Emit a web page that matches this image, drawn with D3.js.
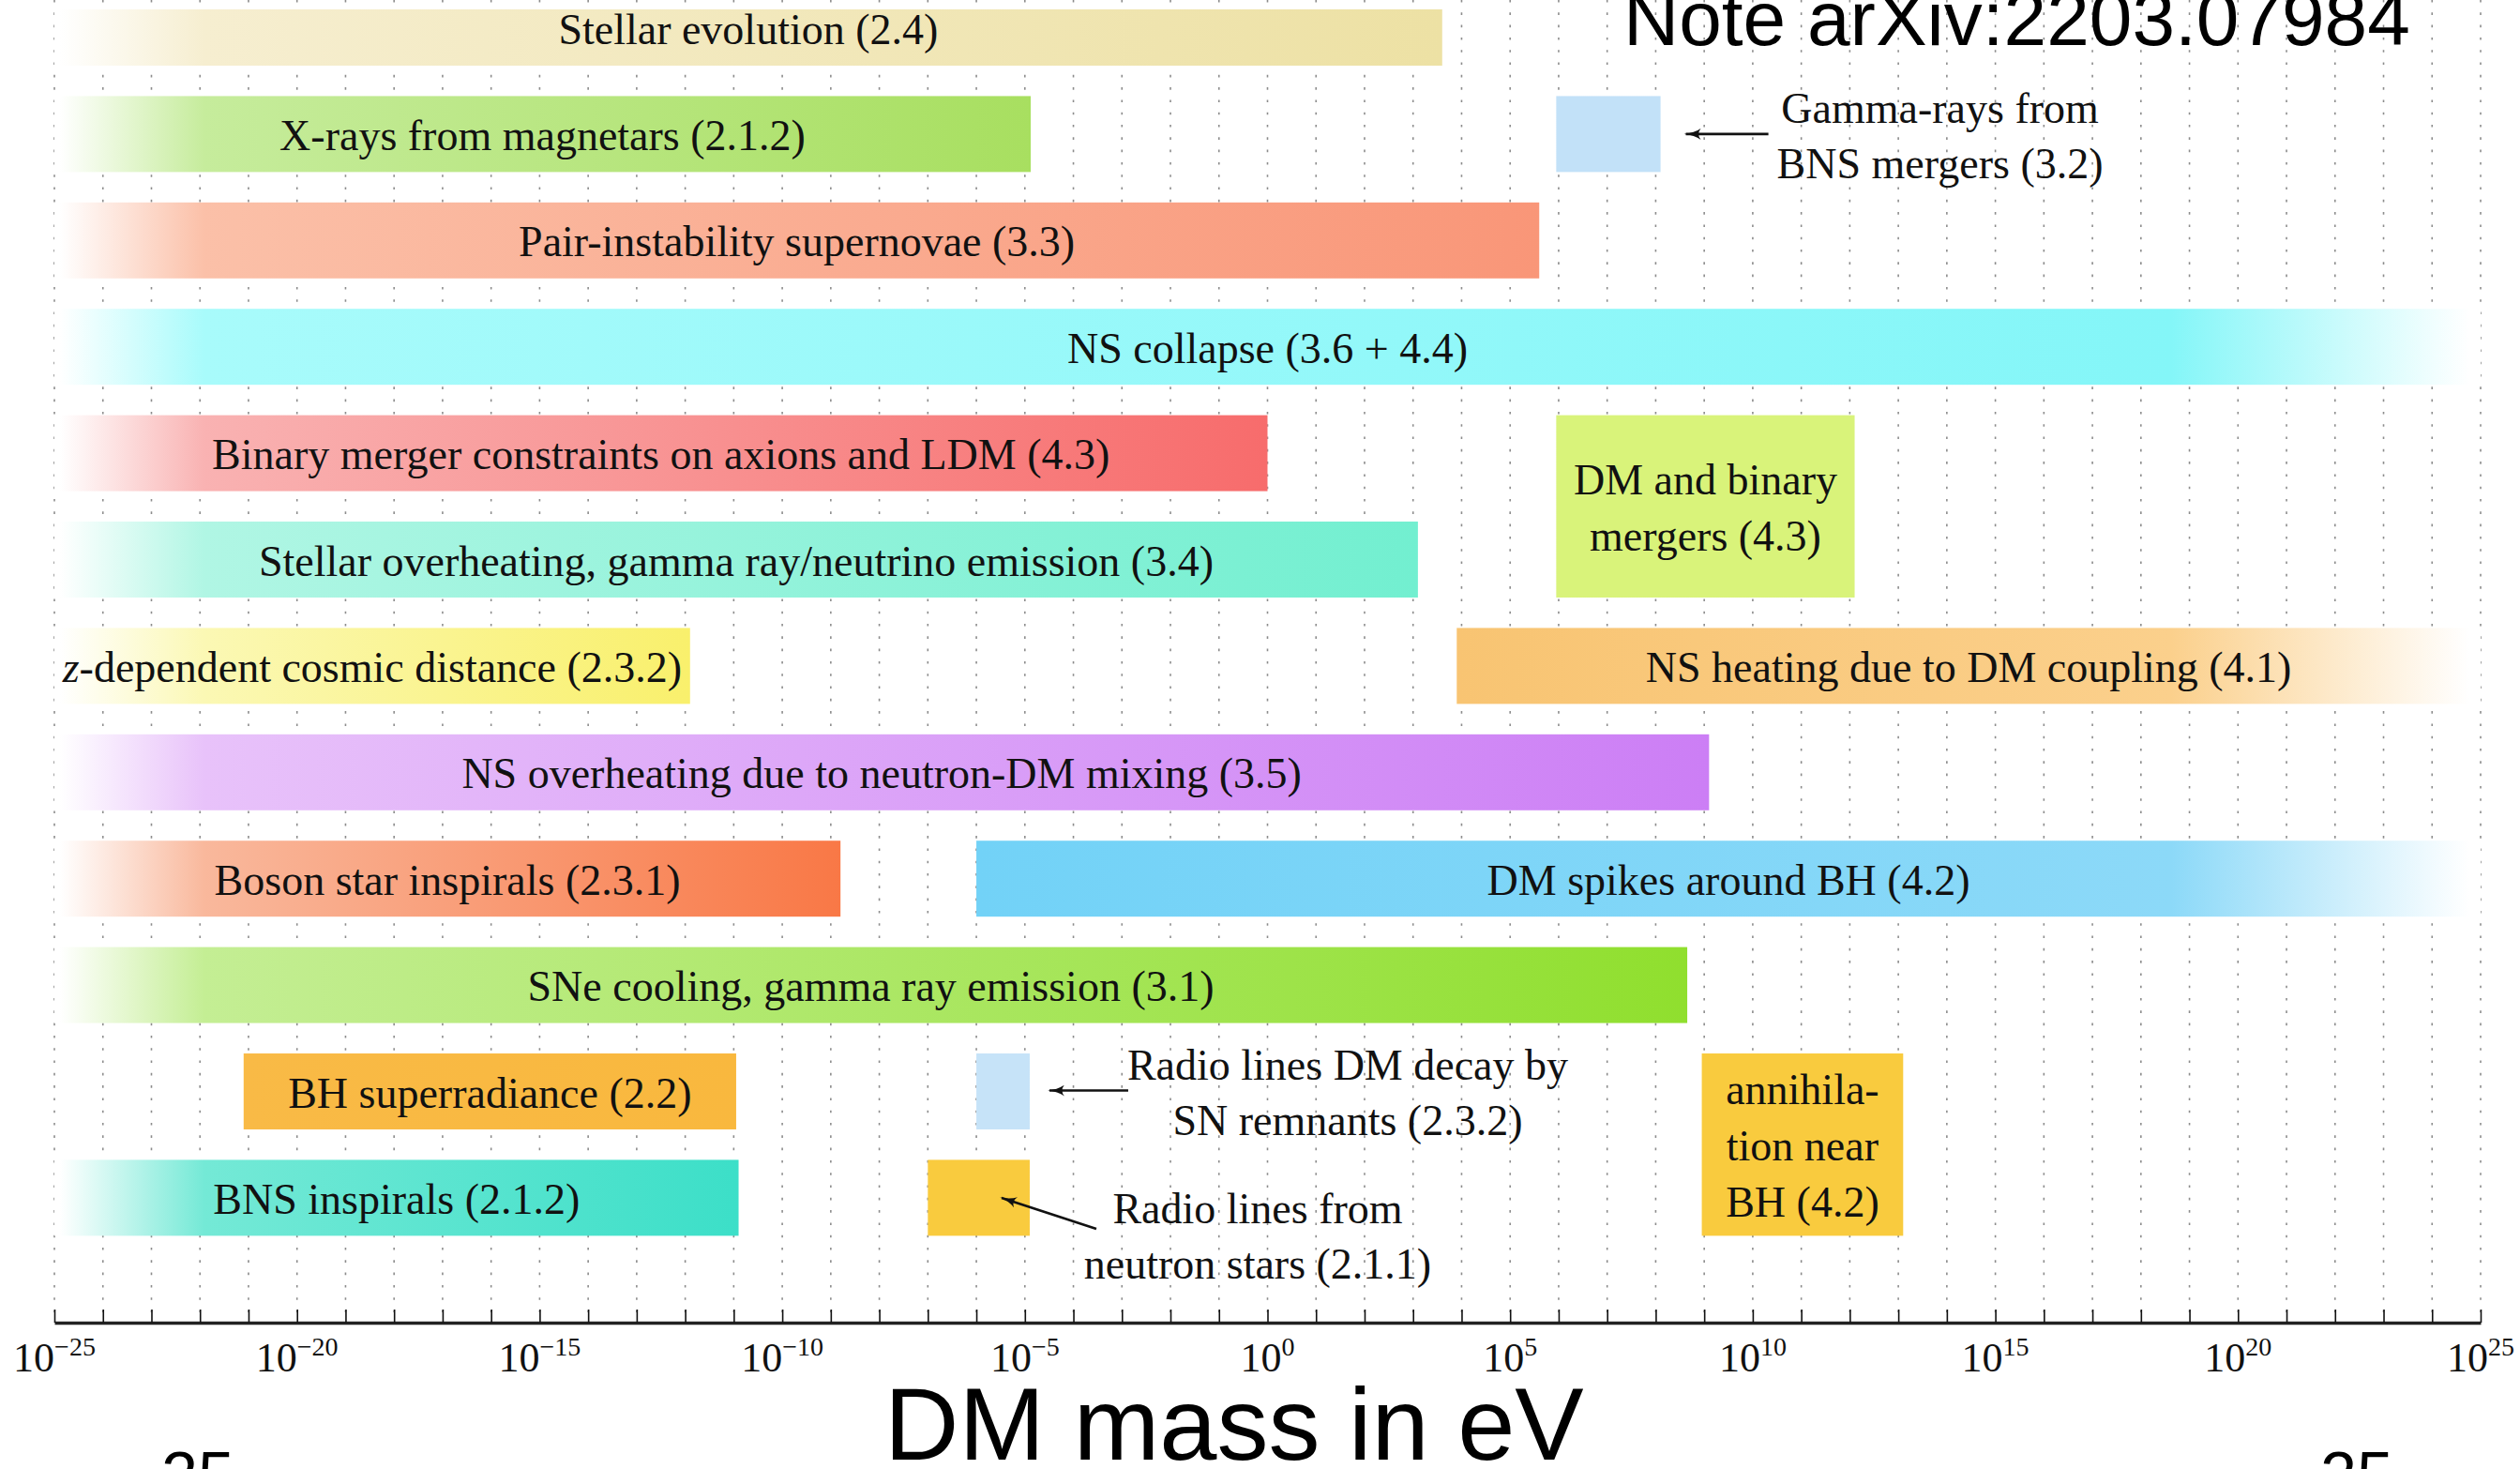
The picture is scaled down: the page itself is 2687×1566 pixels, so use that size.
<!DOCTYPE html>
<html>
<head>
<meta charset="utf-8">
<script src="https://cdn.jsdelivr.net/npm/d3@7"></script>
<style>
  html, body { margin: 0; padding: 0; background: #fff; }
  svg { display: block; }
</style>
</head>
<body>
<svg id="chart" width="2687" height="1566"></svg>
<script>
// ---- Constraint bands (mass ranges in log10(m / eV)) ----
const labels = [
  "Stellar evolution (2.4)",
  "X-rays from magnetars (2.1.2)",
  "",
  "Pair-instability supernovae (3.3)",
  "NS collapse (3.6 + 4.4)",
  "Binary merger constraints on axions and LDM (4.3)",
  "DM and binary\nmergers (4.3)",
  "Stellar overheating, gamma ray/neutrino emission (3.4)",
  "$z$-dependent cosmic distance (2.3.2)",
  "NS heating due to DM coupling (4.1)",
  "NS overheating due to neutron-DM mixing (3.5)",
  "Boson star inspirals (2.3.1)",
  "DM spikes around BH (4.2)",
  "SNe cooling, gamma ray emission (3.1)",
  "BH superradiance (2.2)",
  "",
  "annihila-\ntion near\nBH (4.2)",
  "BNS inspirals (2.1.2)",
  ""
];
const rows      = [0, 1, 1, 2, 3, 4, 4, 5, 6, 6, 7, 8, 8, 9, 10, 10, 10, 11, 11];
const rowSpans  = [1, 1, 1, 1, 1, 1, 2, 1, 1, 1, 1, 1, 1, 1, 1, 1, 2, 1, 1];
const massLow   = [-25, -25, 5.95, -25, -25, -25, 5.95, -25, -25, 3.9, -25, -25, -6, -25, -21.1, -6, 8.95, -25, -7];
const massHigh  = [3.6, -4.88, 8.1, 5.6, 25, 0, 12.1, 3.1, -11.9, 25, 9.1, -8.8, 25, 8.65, -10.95, -4.9, 13.1, -10.9, -4.9];
// bands that continue past the edge of the plotted range
const openLow   = [1, 1, 0, 1, 1, 1, 0, 1, 1, 0, 1, 1, 0, 1, 0, 0, 0, 1, 0];
const openHigh  = [0, 0, 0, 0, 1, 0, 0, 0, 0, 1, 0, 0, 1, 0, 0, 0, 0, 0, 0];

// ---- Callouts for the narrow boxes ----
const calloutBand  = [2, 15, 18];
const calloutLines = [
  ["Gamma-rays from", "BNS mergers (3.2)"],
  ["Radio lines DM decay by", "SN remnants (2.3.2)"],
  ["Radio lines from", "neutron stars (2.1.1)"]
];

// ---- Axis ----
const decadeExponents = d3.range(-25, 26);
const tickLabels = [-25, -20, -15, -10, -5, 0, 5, 10, 15, 20, 25];

// ---- Styles ----
const bandColors = [
  ["#f6eed0", "#ede1a4"],
  ["#c6ec9c", "#a8df60"],
  ["#c2e1f8", "#c2e1f8"],
  ["#fbc0a8", "#f99678"],
  ["#a8fbfb", "#84f6f8"],
  ["#f9b2b2", "#f76c6c"],
  ["#d9f37a", "#d9f37a"],
  ["#b0f6e4", "#72efd0"],
  ["#fbf8b4", "#f9f06c"],
  ["#f8c472", "#fbd08c"],
  ["#e8c2fa", "#cc7ef5"],
  ["#f9b89c", "#f97846"],
  ["#72d2f7", "#8cd9f8"],
  ["#c4ee94", "#90df2e"],
  ["#f9ba46", "#f9b83e"],
  ["#c6e3f8", "#c6e3f8"],
  ["#f9cb3e", "#f9cb3e"],
  ["#74e9d6", "#3cdfc8"],
  ["#f9cb3e", "#f9cb3e"]
];
// callout placement relative to the right edge / centre of the box
const calloutLayout = [
  { tx: 298, ty: 1,  a0: [115, 0],  a1: [27, 0] },
  { tx: 339, ty: 0,  a0: [105, -1], a1: [21, -1] },
  { tx: 243, ty: 40, a0: [71, 33],  a1: [-30, 0] }
];

const W = 2687, H = 1566;
const axisY = 1410;
const serif = "'Liberation Serif', 'DejaVu Serif', serif";
const sans = "'Liberation Sans', Arial, sans-serif";
const labelSize = 46, lineGap = 60;

const svg = d3.select("#chart");
svg.append("rect").attr("width", W).attr("height", H).attr("fill", "#fff");

const x = d3.scaleLog().domain([1e-25, 1e25]).range([58, 2645]);
const y = d3.scaleBand().domain(d3.range(12))
  .range([-27.2, 1333.6]).paddingInner(0.286).paddingOuter(0.143);

const defs = svg.append("defs");
defs.append("clipPath").attr("id", "plotClip")
  .append("rect").attr("x", 0).attr("y", 10).attr("width", W).attr("height", axisY - 10);

defs.append("marker")
  .attr("id", "arrowHead")
  .attr("viewBox", "0 0 18 12")
  .attr("refX", 16).attr("refY", 6)
  .attr("markerWidth", 18).attr("markerHeight", 12)
  .attr("markerUnits", "userSpaceOnUse")
  .attr("orient", "auto")
  .append("path")
  .attr("d", "M0,0 Q7,5 18,6 Q7,7 0,12 Q5,6 0,0 Z")
  .attr("fill", "#111");

// dotted grid at every decade
svg.append("g")
  .selectAll("line")
  .data(decadeExponents)
  .join("line")
  .attr("x1", e => x(10 ** e)).attr("x2", e => x(10 ** e))
  .attr("y1", 0).attr("y2", axisY)
  .attr("stroke", "#8c8c8c")
  .attr("stroke-width", 1.6)
  .attr("stroke-dasharray", "2.6 10.7");

// band geometry
const bands = labels.map((label, i) => {
  const x0 = x(10 ** massLow[i]);
  const x1 = x(10 ** massHigh[i]);
  const y0 = y(rows[i]);
  const y1 = y(rows[i] + rowSpans[i] - 1) + y.bandwidth();
  return { i, label, x0, x1, y0, y1 };
});

// horizontal colour gradients, fading to white where a band is open-ended
bands.forEach(b => {
  const w = b.x1 - b.x0;
  const [cA, cB] = bandColors[b.i];
  const g = defs.append("linearGradient")
    .attr("id", "band" + b.i)
    .attr("gradientUnits", "userSpaceOnUse")
    .attr("x1", b.x0).attr("x2", b.x1).attr("y1", 0).attr("y2", 0);
  const stops = [];
  if (openLow[b.i]) {
    stops.push([0, "#ffffff"], [6 / w, "#ffffff"], [160 / w, cA]);
  } else {
    stops.push([0, cA]);
  }
  if (openHigh[b.i]) {
    stops.push([1 - 330 / w, cB], [1 - 12 / w, "#ffffff"], [1, "#ffffff"]);
  } else {
    stops.push([1, cB]);
  }
  g.selectAll("stop").data(stops).join("stop")
    .attr("offset", d => d[0]).attr("stop-color", d => d[1]);
});

const plot = svg.append("g").attr("clip-path", "url(#plotClip)");
plot.selectAll("rect.band")
  .data(bands)
  .join("rect")
  .attr("class", "band")
  .attr("x", b => b.x0).attr("width", b => b.x1 - b.x0)
  .attr("y", b => b.y0).attr("height", b => b.y1 - b.y0)
  .attr("fill", b => `url(#band${b.i})`);

// write a line with $...$ segments set in italics
function fillLine(textSel, line) {
  line.split("$").forEach((part, k) => {
    if (!part) return;
    textSel.append("tspan").attr("font-style", k % 2 ? "italic" : null).text(part);
  });
}

// band labels
bands.filter(b => b.label).forEach(b => {
  const lines = b.label.split("\n");
  const cx = (b.x0 + b.x1) / 2;
  const cy = (b.y0 + b.y1) / 2;
  lines.forEach((line, k) => {
    const t = svg.append("text")
      .attr("x", cx)
      .attr("y", cy + (k - (lines.length - 1) / 2) * lineGap)
      .attr("dy", "0.37em")
      .attr("text-anchor", "middle")
      .attr("font-family", serif)
      .attr("font-size", labelSize)
      .attr("fill", "#111");
    fillLine(t, line);
  });
});

// callouts with arrows
calloutBand.forEach((bi, k) => {
  const b = bands[bi];
  const L = calloutLayout[k];
  const cy = (b.y0 + b.y1) / 2;
  svg.append("line")
    .attr("x1", b.x1 + L.a0[0]).attr("y1", cy + L.a0[1])
    .attr("x2", b.x1 + L.a1[0]).attr("y2", cy + L.a1[1])
    .attr("stroke", "#111").attr("stroke-width", 2.6)
    .attr("marker-end", "url(#arrowHead)");
  const lines = calloutLines[k];
  lines.forEach((line, j) => {
    svg.append("text")
      .attr("x", b.x1 + L.tx)
      .attr("y", cy + L.ty + (j - (lines.length - 1) / 2) * 59)
      .attr("dy", "0.37em")
      .attr("text-anchor", "middle")
      .attr("font-family", serif)
      .attr("font-size", labelSize)
      .attr("fill", "#111")
      .text(line);
  });
});

// x axis: a tick at every decade
const axis = d3.axisBottom(x)
  .tickValues(decadeExponents.map(e => 10 ** e))
  .tickSizeInner(-14)
  .tickSizeOuter(0)
  .tickFormat(() => "");
const gAxis = svg.append("g").attr("transform", `translate(0,${axisY})`).call(axis);
gAxis.select(".domain").attr("stroke", "#222").attr("stroke-width", 3.5);
gAxis.selectAll(".tick line").attr("stroke", "#111").attr("stroke-width", 1.6);

// tick labels 10^e
const tl = svg.append("g").selectAll("text")
  .data(tickLabels)
  .join("text")
  .attr("x", e => x(10 ** e))
  .attr("y", 1462)
  .attr("text-anchor", "middle")
  .attr("font-family", serif)
  .attr("fill", "#111");
tl.append("tspan").attr("font-size", 44).text("10");
tl.append("tspan").attr("font-size", 28).attr("dy", -17)
  .text(e => (e < 0 ? "\u2212" + (-e) : String(e)));

// axis title and notes
svg.append("text")
  .attr("x", 943).attr("y", 1556)
  .attr("font-family", sans).attr("font-size", 110).attr("fill", "#000")
  .text("DM mass in eV");

svg.append("text")
  .attr("x", 1731).attr("y", 48)
  .attr("font-family", sans).attr("font-size", 82).attr("fill", "#000")
  .text("Note arXiv:2203.07984");

svg.append("text")
  .attr("x", 172).attr("y", 1597)
  .attr("font-family", sans).attr("font-size", 70).attr("fill", "#000")
  .text("25");
svg.append("text")
  .attr("x", 2474).attr("y", 1597)
  .attr("font-family", sans).attr("font-size", 70).attr("fill", "#000")
  .text("25");
</script>
</body>
</html>
